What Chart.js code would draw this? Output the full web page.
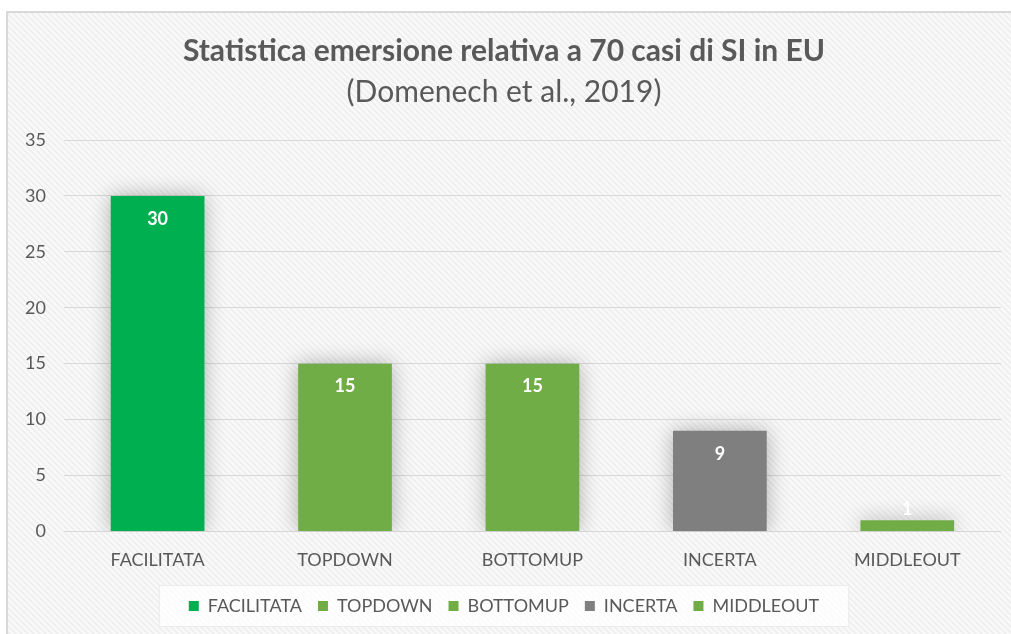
<!DOCTYPE html>
<html>
<head>
<meta charset="utf-8">
<script src="https://cdn.jsdelivr.net/npm/chart.js@4.4.0/dist/chart.umd.min.js"></script>
<style>
  html, body { margin: 0; padding: 0; background: #fff; }
  #wrap { width: 1011px; height: 634px; }
</style>
</head>
<body>
<div id="wrap"><canvas id="chart" width="1011" height="634"></canvas></div>
<script>
// Chart data
const categories = ['FACILITATA', 'TOPDOWN', 'BOTTOMUP', 'INCERTA', 'MIDDLEOUT'];
const counts = [30, 15, 15, 9, 1];
const barColors = ['#00B050', '#70AD47', '#70AD47', '#7F7F7F', '#70AD47'];
const yTicks = [0, 5, 10, 15, 20, 25, 30, 35];

const titleText = 'Statistica emersione relativa a 70 casi di SI in EU';
const subtitleText = '(Domenech et al., 2019)';
const textColor = '#595959';
const fontFamily = 'Lato, "Noto Sans", sans-serif';

// diagonal hatching for the chart background
function makeHatch() {
  const c = document.createElement('canvas');
  c.width = 6; c.height = 6;
  const g = c.getContext('2d');
  g.fillStyle = '#f9f9f9';
  g.fillRect(0, 0, 6, 6);
  g.strokeStyle = '#ededed';
  g.lineWidth = 1.5;
  g.beginPath();
  g.moveTo(-1, -1); g.lineTo(7, 7);
  g.moveTo(-4, 2); g.lineTo(2, 8);
  g.moveTo(2, -4); g.lineTo(8, 2);
  g.stroke();
  return c;
}

const backgroundPlugin = {
  id: 'background',
  beforeDraw(chart) {
    const ctx = chart.ctx;
    ctx.save();
    ctx.fillStyle = '#ffffff';
    ctx.fillRect(0, 0, chart.width, chart.height);
    ctx.fillStyle = ctx.createPattern(makeHatch(), 'repeat');
    ctx.fillRect(8, 12, chart.width - 8, chart.height - 12);
    ctx.fillStyle = '#d9d9d9';
    ctx.fillRect(6, 11, chart.width - 6, 2);
    ctx.fillRect(6, 11, 2, chart.height - 11);

    // legend box
    const boxes = chart.legend.legendHitBoxes;
    if (boxes && boxes.length) {
      const first = boxes[0], last = boxes[boxes.length - 1];
      const x0 = first.left - 30, x1 = last.left + last.width + 30;
      const y0 = first.top - 12, y1 = first.top + first.height + 12;
      ctx.fillStyle = 'rgba(255,255,255,0.75)';
      ctx.fillRect(x0, y0, x1 - x0, y1 - y0);
      ctx.strokeStyle = 'rgba(230,230,230,0.8)';
      ctx.lineWidth = 1;
      ctx.strokeRect(x0 + 0.5, y0 + 0.5, x1 - x0 - 1, y1 - y0 - 1);
    }
    ctx.restore();
  }
};

const shadowPlugin = {
  id: 'barShadow',
  beforeDatasetDraw(chart) {
    const ctx = chart.ctx;
    ctx.save();
    ctx.shadowColor = 'rgba(0,0,0,0.3)';
    ctx.shadowBlur = 20;
    ctx.shadowOffsetX = 0;
    ctx.shadowOffsetY = 0;
  },
  afterDatasetDraw(chart) {
    chart.ctx.restore();
  }
};

const labelPlugin = {
  id: 'valueLabels',
  afterDatasetsDraw(chart) {
    const ctx = chart.ctx;
    const meta = chart.getDatasetMeta(0);
    ctx.save();
    ctx.font = 'bold 18px ' + fontFamily;
    ctx.fillStyle = '#ffffff';
    ctx.textAlign = 'center';
    ctx.textBaseline = 'middle';
    meta.data.forEach((bar, i) => {
      const h = bar.base - bar.y;
      const y = h > 40 ? bar.y + 23 : bar.y - 11;
      ctx.fillText(String(counts[i]), bar.x, y);
    });
    ctx.restore();
  }
};

new Chart(document.getElementById('chart'), {
  type: 'bar',
  data: {
    labels: categories,
    datasets: [{
      data: counts,
      backgroundColor: barColors,
      borderWidth: 0,
      categoryPercentage: 1,
      barPercentage: 0.5
    }]
  },
  options: {
    responsive: false,
    animation: false,
    layout: { padding: { left: 7, right: 10, top: 33, bottom: 9 } },
    plugins: {
      title: {
        display: true,
        text: titleText,
        color: textColor,
        font: { family: fontFamily, size: 30, weight: 'bold' },
        padding: { top: 0, bottom: 5 }
      },
      subtitle: {
        display: true,
        text: subtitleText,
        color: textColor,
        font: { family: fontFamily, size: 30, weight: 'normal' },
        padding: { top: 0, bottom: 30 }
      },
      legend: {
        position: 'bottom',
        labels: {
          color: textColor,
          font: { family: fontFamily, size: 18 },
          boxWidth: 10,
          boxHeight: 10,
          padding: 16,
          generateLabels() {
            return categories.map((c, i) => ({
              text: c,
              fillStyle: barColors[i],
              strokeStyle: barColors[i],
              lineWidth: 0,
              fontColor: textColor,
              index: i
            }));
          }
        }
      },
      tooltip: { enabled: false }
    },
    scales: {
      x: {
        grid: { display: false },
        border: { display: false },
        ticks: {
          color: textColor,
          font: { family: fontFamily, size: 18 },
          padding: 10
        }
      },
      y: {
        min: 0,
        max: 35,
        afterBuildTicks(scale) {
          scale.ticks = yTicks.map(v => ({ value: v }));
        },
        grid: { color: '#d9d9d9', lineWidth: 1, drawTicks: false },
        border: { display: false },
        ticks: {
          color: textColor,
          font: { family: fontFamily, size: 18 },
          padding: 18
        }
      }
    }
  },
  plugins: [backgroundPlugin, shadowPlugin, labelPlugin]
});
</script>
</body>
</html>
